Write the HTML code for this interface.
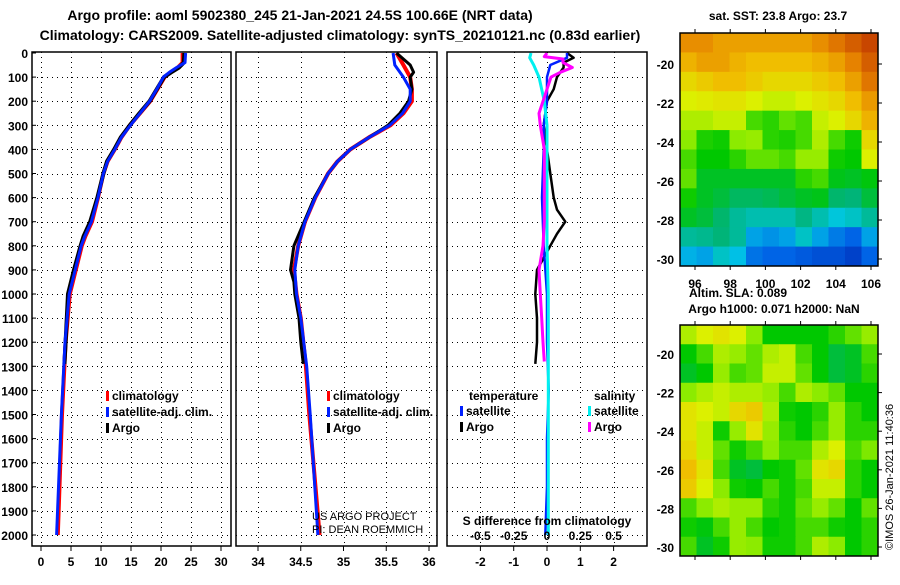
<!DOCTYPE html>
<html><head><meta charset="utf-8"><style>
body{margin:0;background:#fff;font-family:"Liberation Sans",sans-serif}
svg text{font-family:"Liberation Sans",sans-serif;font-weight:bold}
</style></head><body>
<svg id="c" width="900" height="580" xmlns="http://www.w3.org/2000/svg">
<text x="300" y="20" font-size="14" text-anchor="middle">Argo profile: aoml 5902380_245 21-Jan-2021 24.5S 100.66E (NRT data)</text>
<text x="340" y="40" font-size="14" text-anchor="middle">Climatology: CARS2009. Satellite-adjusted climatology: synTS_20210121.nc (0.83d earlier)</text>
<text x="778" y="20" font-size="12" text-anchor="middle">sat. SST: 23.8 Argo: 23.7</text>
<text x="738" y="297" font-size="12" text-anchor="middle">Altim. SLA: 0.089</text>
<text x="774" y="313" font-size="12" text-anchor="middle">Argo h1000: 0.071 h2000: NaN</text>
<text transform="translate(893,550) rotate(-90)" font-size="11" style="font-weight:normal">©IMOS 26-Jan-2021 11:40:36</text>
</svg>
<script>
const NS="http://www.w3.org/2000/svg";
const svg=document.getElementById('c');
function mk(tag,attrs,parent){const e=document.createElementNS(NS,tag);for(const k in attrs)e.setAttribute(k,attrs[k]);(parent||svg).appendChild(e);return e;}
// ---- data ----
const depthTicks=[0,100,200,300,400,500,600,700,800,900,1000,1100,1200,1300,1400,1500,1600,1700,1800,1900,2000];
const tempTicks=[0,5,10,15,20,25,30];
const salTicks=[34,34.5,35,35.5,36];
const diffTicks=[-2,-1,0,1,2];
const sdiffTickLabels=["-0.5","-0.25","0","0.25","0.5"];
const sdiffTickVals=[-0.5,-0.25,0,0.25,0.5];
const tDepth=[0,40,60,80,100,150,200,250,300,350,400,450,500,600,700,760,800,900,1000,1200,1500,2000];
const tClim=[23.6,23.6,22.8,21.6,20.6,19.4,18.2,16.5,14.8,13.4,12.3,11.1,10.4,9.5,8.5,7.4,6.8,5.8,4.8,4.1,3.5,2.8];
const tSat=[24.1,24.0,22.6,21.4,20.4,19.3,18.1,16.5,14.9,13.4,12.3,11.1,10.4,9.5,8.4,7.3,6.7,5.7,4.7,4.0,3.4,2.6];
const tArgoDepth=[0,40,60,80,100,150,200,250,300,350,400,450,500,600,700,760,800,900,1000,1100,1200,1290];
const tArgo=[23.9,23.8,23.0,21.7,20.5,19.3,18.1,16.4,14.8,13.3,12.2,11.0,10.4,9.4,8.2,7.1,6.6,5.5,4.5,4.3,4.1,3.9];
const sDepth=[0,50,100,150,200,250,300,350,400,450,500,600,700,800,900,1000,1100,1300,1500,2000];
const sClim=[35.62,35.7,35.78,35.8,35.8,35.7,35.55,35.3,35.08,34.93,34.82,34.67,34.55,34.47,34.42,34.45,34.5,34.56,34.6,34.72];
const sSat=[35.58,35.6,35.7,35.78,35.78,35.69,35.54,35.3,35.08,34.93,34.82,34.67,34.55,34.47,34.43,34.45,34.5,34.57,34.61,34.7];
const sArgoDepth=[0,50,80,100,150,200,250,300,350,400,450,500,600,700,800,850,900,950,1000,1100,1200,1290];
const sArgo=[35.62,35.78,35.82,35.78,35.8,35.76,35.66,35.52,35.3,35.08,34.93,34.82,34.66,34.54,34.42,34.4,34.38,34.42,34.43,34.48,34.5,34.53];
const dDepth=[0,20,40,60,100,150,200,300,400,500,600,650,700,750,800,850,900,1000,1100,1200,1290];
const dTArgo=[0.6,0.8,0.5,0.5,0.3,0.2,0.0,-0.1,0.0,0.1,0.2,0.3,0.55,0.3,0.1,-0.1,-0.3,-0.35,-0.3,-0.3,-0.35];
const dsDepth=[0,20,50,100,200,300,400,600,800,1000,1200,1400,1600,1800,2000];
const dTSat=[0.6,0.6,0.1,0.0,0.0,-0.1,-0.1,-0.15,-0.1,0.0,0.0,0.05,0.0,0.0,-0.05];
const dSSat=[-0.12,-0.13,-0.1,-0.06,-0.02,0.0,0.0,0.0,0.0,0.01,0.01,0.01,0.01,0.01,0.01];
const dSArgoDepth=[0,15,25,40,60,80,100,150,200,250,300,400,500,600,700,800,900,1000,1100,1200,1280];
const dSArgo=[0.0,-0.02,0.12,0.12,0.19,0.1,0.03,0.0,-0.03,-0.06,-0.05,-0.02,-0.02,-0.02,-0.02,-0.03,-0.06,-0.05,-0.04,-0.03,-0.02];
const sstLatTicks=[-20,-22,-24,-26,-28,-30];
const lonTicks=[96,98,100,102,104,106];
const slaLatTicks=[-20,-22,-24,-26,-28,-30];
const sstGrid=[
[0.78,0.78,0.75,0.75,0.75,0.75,0.75,0.75,0.78,0.82,0.86,0.9],
[0.72,0.75,0.75,0.72,0.7,0.7,0.7,0.7,0.72,0.75,0.8,0.86],
[0.66,0.68,0.7,0.7,0.68,0.66,0.66,0.66,0.68,0.7,0.75,0.82],
[0.62,0.63,0.64,0.64,0.62,0.6,0.6,0.62,0.64,0.66,0.7,0.76],
[0.58,0.58,0.6,0.6,0.5,0.48,0.52,0.5,0.6,0.62,0.66,0.72],
[0.55,0.47,0.46,0.55,0.56,0.48,0.47,0.5,0.58,0.5,0.46,0.66],
[0.5,0.45,0.45,0.48,0.52,0.52,0.5,0.56,0.56,0.46,0.45,0.62],
[0.52,0.42,0.42,0.42,0.42,0.42,0.42,0.48,0.5,0.43,0.42,0.44],
[0.46,0.42,0.4,0.37,0.37,0.38,0.4,0.42,0.43,0.36,0.35,0.4],
[0.42,0.4,0.36,0.32,0.3,0.3,0.3,0.34,0.3,0.26,0.28,0.32],
[0.32,0.33,0.35,0.32,0.2,0.18,0.2,0.28,0.2,0.15,0.12,0.2],
[0.22,0.2,0.28,0.24,0.14,0.12,0.12,0.1,0.08,0.08,0.05,0.12]];
const slaGrid=[
[0.58,0.62,0.64,0.62,0.55,0.45,0.45,0.45,0.45,0.48,0.52,0.56],
[0.45,0.5,0.58,0.56,0.52,0.58,0.6,0.5,0.45,0.4,0.42,0.5],
[0.42,0.45,0.56,0.5,0.52,0.6,0.6,0.52,0.45,0.4,0.42,0.48],
[0.55,0.58,0.6,0.58,0.58,0.56,0.5,0.58,0.55,0.52,0.45,0.45],
[0.64,0.62,0.6,0.66,0.68,0.58,0.46,0.45,0.48,0.56,0.48,0.45],
[0.64,0.6,0.46,0.56,0.64,0.56,0.48,0.45,0.5,0.56,0.48,0.48],
[0.66,0.6,0.52,0.46,0.5,0.55,0.5,0.5,0.58,0.62,0.5,0.54],
[0.7,0.64,0.5,0.42,0.4,0.45,0.46,0.52,0.64,0.66,0.48,0.45],
[0.68,0.62,0.55,0.46,0.45,0.5,0.46,0.5,0.6,0.6,0.48,0.45],
[0.5,0.55,0.58,0.56,0.56,0.48,0.46,0.52,0.56,0.52,0.45,0.52],
[0.46,0.44,0.5,0.56,0.5,0.45,0.46,0.5,0.5,0.46,0.45,0.48],
[0.5,0.42,0.46,0.56,0.55,0.46,0.46,0.5,0.58,0.55,0.45,0.48]];
// ---- layout ----
const pTop=52,pBot=546,y0=53,yPer=0.241;
const Y=d=>y0+d*yPer;
const P1={l:32,r:231},P2={l:236,r:437},P3={l:447,r:647};
const XT=v=>41+v*6, XS=v=>258+(v-34)*85.5, XD=v=>547+v*33.3, XDS=v=>547+v*4*33.3;
const px=v=>Math.round(v)+0.5;
function frame(P,name){mk('rect',{x:P.l,y:pTop,width:P.r-P.l,height:pBot-pTop,fill:'none',stroke:'#000','stroke-width':1.5,});}
function hgrid(P){depthTicks.forEach(d=>{if(d>0){const g=mk('line',{x1:P.l,x2:P.r,y1:px(Y(d)),y2:px(Y(d)),stroke:'#000','stroke-width':1,'stroke-dasharray':'1,4','shape-rendering':'crispEdges'});}});}
function vgrid(P,xs){xs.forEach(x=>{const g=mk('line',{x1:px(x),x2:px(x),y1:pTop,y2:pBot,stroke:'#000','stroke-width':1,'stroke-dasharray':'1,4','shape-rendering':'crispEdges'});});}
function xticks(P,xs,labels,name){xs.forEach((x,i)=>{mk('line',{x1:x,x2:x,y1:pBot,y2:pBot+5,stroke:'#000'});const t=mk('text',{x:x,y:pBot+20,'font-size':12,'text-anchor':'middle'});t.textContent=labels[i];});}
function line(xs,ds,fx,color,w,name){const pts=xs.map((v,i)=>fx(v).toFixed(1)+','+Y(ds[i]).toFixed(1)).join(' ');const p=mk('polyline',{points:pts,fill:'none',stroke:color,'stroke-width':w,'stroke-linejoin':'round'});}
function legend(x,y,color,label,name){mk('rect',{x:x,y:y-9,width:3,height:10,fill:color});const t=mk('text',{x:x+6,y:y,'font-size':12});t.textContent=label;}
depthTicks.forEach(d=>{const t=mk('text',{x:28,y:Y(d)+5,'font-size':12,'text-anchor':'end'});t.textContent=d;mk('line',{x1:P1.l,x2:P1.l+4,y1:Y(d),y2:Y(d),stroke:'#000'});});
// panel 1
hgrid(P1);vgrid(P1,tempTicks.map(XT));
line(tClim,tDepth,XT,'#f00',4,'temperature-climatology-line');
line(tArgo,tArgoDepth,XT,'#000',4,'temperature-argo-line');
line(tSat,tDepth,XT,'#0020ff',3,'temperature-satellite-line');
frame(P1,'temperature-panel');xticks(P1,tempTicks.map(XT),tempTicks,'temperature-tick-label');
legend(106,400,'#f00','climatology','legend-climatology');legend(106,416,'#0020ff','satellite-adj. clim.','legend-satellite');legend(106,432,'#000','Argo','legend-argo');
// panel 2
hgrid(P2);vgrid(P2,salTicks.map(XS));
line(sClim,sDepth,XS,'#f00',4,'salinity-climatology-line');
line(sArgo,sArgoDepth,XS,'#000',3,'salinity-argo-line');
line(sSat,sDepth,XS,'#0020ff',3,'salinity-satellite-line');
frame(P2,'salinity-panel');xticks(P2,salTicks.map(XS),salTicks,'salinity-tick-label');
legend(327,400,'#f00','climatology','legend-climatology-2');legend(327,416,'#0020ff','satellite-adj. clim.','legend-satellite-2');legend(327,432,'#000','Argo','legend-argo-2');
let t=mk('text',{x:312,y:520,'font-size':11,style:'font-weight:normal',});t.textContent='US ARGO PROJECT';
t=mk('text',{x:312,y:533,'font-size':11,style:'font-weight:normal',});t.textContent='PI: DEAN ROEMMICH';
// panel 3
hgrid(P3);vgrid(P3,diffTicks.map(XD));
line(dTArgo,dDepth,XD,'#000',2.5,'temp-diff-argo-line');
line(dTSat,dsDepth,XD,'#0020ff',2.5,'temp-diff-satellite-line');
line(dSSat,dsDepth,XDS,'#00f0f0',3,'sal-diff-satellite-line');
line(dSArgo,dSArgoDepth,XDS,'#ff00ff',3,'sal-diff-argo-line');
frame(P3,'difference-panel');xticks(P3,diffTicks.map(XD),diffTicks,'temp-diff-tick-label');
t=mk('text',{x:547,y:525,'font-size':12,'text-anchor':'middle',});t.textContent='S difference from climatology';
sdiffTickVals.forEach((v,i)=>{const e=mk('text',{x:XDS(v),y:540,'font-size':12,'text-anchor':'middle'});e.textContent=sdiffTickLabels[i];});
t=mk('text',{x:469,y:400,'font-size':12,});t.textContent='temperature';
t=mk('text',{x:594,y:400,'font-size':12,});t.textContent='salinity';
legend(460,415,'#0020ff','satellite','legend-temp-satellite');legend(460,431,'#000','Argo','legend-temp-argo');
legend(588,415,'#00f0f0','satellite','legend-sal-satellite');legend(588,431,'#ff00ff','Argo','legend-sal-argo');
// maps
const stops=[[0,[0,40,180]],[0.12,[0,100,230]],[0.25,[0,200,230]],[0.35,[0,180,120]],[0.45,[0,200,0]],[0.55,[140,235,0]],[0.62,[220,240,0]],[0.7,[240,190,0]],[0.8,[230,130,0]],[0.9,[200,70,0]],[1,[170,0,0]]];
function cmap(v){for(let i=1;i<stops.length;i++){if(v<=stops[i][0]){const a=stops[i-1],b=stops[i],f=(v-a[0])/(b[0]-a[0]);const c=a[1].map((x,k)=>Math.round(x+(b[1][k]-x)*f));return 'rgb('+c.join(',')+')';}}return 'rgb(170,0,0)';}
function drawMap(grid,M,name,latTicks,latToY,showLon){
  const rows=grid.length,cols=grid[0].length,cw=(M.r-M.l)/cols,ch=(M.b-M.t)/rows;
  grid.forEach((row,i)=>row.forEach((v,j)=>{const c=mk('rect',{x:M.l+j*cw,y:M.t+i*ch,width:cw+0.5,height:ch+0.5,fill:cmap(v)});}));
  mk('rect',{x:M.l,y:M.t,width:M.r-M.l,height:M.b-M.t,fill:'none',stroke:'#000','stroke-width':1.5,});
  latTicks.forEach(l=>{const y=latToY(l);mk('line',{x1:M.r,x2:M.r+4,y1:y,y2:y,stroke:'#000'});const e=mk('text',{x:M.l-6,y:y+5,'font-size':12,'text-anchor':'end'});e.textContent=l;});
  lonTicks.forEach(lo=>{const x=695+(lo-96)*17.6;mk('line',{x1:x,x2:x,y1:M.b,y2:M.b+4,stroke:'#000'});mk('line',{x1:x,x2:x,y1:M.t-4,y2:M.t,stroke:'#000'});if(showLon){const e=mk('text',{x:x,y:M.b+22,'font-size':12,'text-anchor':'middle'});e.textContent=lo;}});
}
drawMap(sstGrid,{l:680,r:878,t:33,b:266},'sst-map',sstLatTicks,l=>64+(-20-l)*19.5,true);
drawMap(slaGrid,{l:680,r:878,t:325,b:556},'sla-map',slaLatTicks,l=>354+(-20-l)*19.3,false);
</script>
</body></html>
